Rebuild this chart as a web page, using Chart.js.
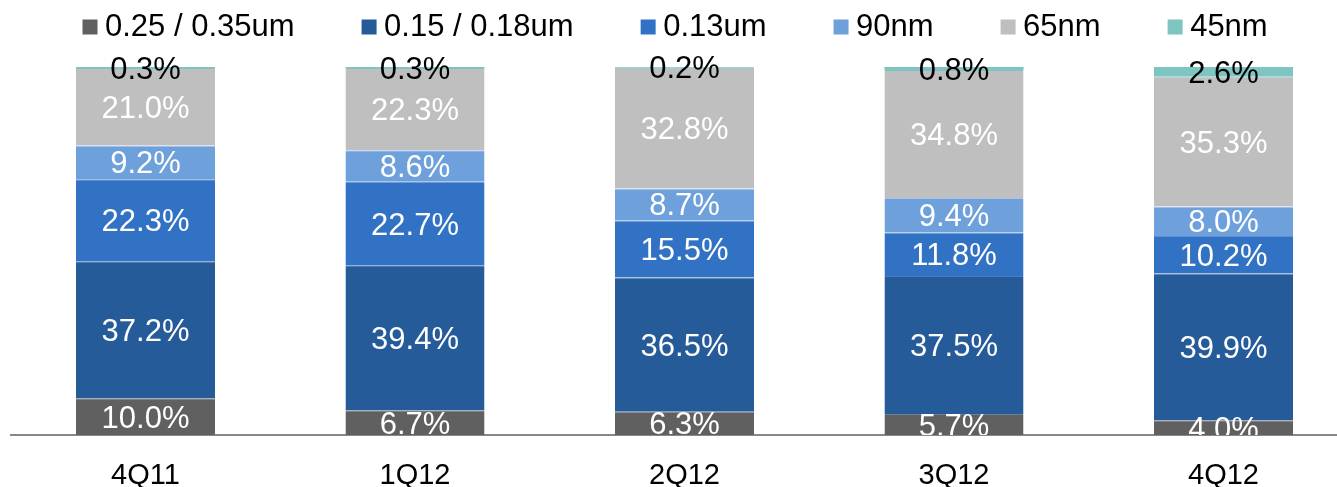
<!DOCTYPE html>
<html>
<head>
<meta charset="utf-8">
<script src="https://cdn.jsdelivr.net/npm/chart.js@4"></script>
<style>
  html, body { margin: 0; padding: 0; background: #ffffff; overflow: hidden; }
  #wrap { width: 1360px; height: 487px; position: relative; overflow: hidden; }
</style>
</head>
<body>
<div id="wrap"><canvas id="c" width="1360" height="518"></canvas></div>
<script>
const categories = ['4Q11', '1Q12', '2Q12', '3Q12', '4Q12'];
const seriesNames = ['0.25 / 0.35um', '0.15 / 0.18um', '0.13um', '90nm', '65nm', '45nm'];
const s025_035 = [10.0, 6.7, 6.3, 5.7, 4.0];
const s015_018 = [37.2, 39.4, 36.5, 37.5, 39.9];
const s013 = [22.3, 22.7, 15.5, 11.8, 10.2];
const s90 = [9.2, 8.6, 8.7, 9.4, 8.0];
const s65 = [21.0, 22.3, 32.8, 34.8, 35.3];
const s45 = [0.3, 0.3, 0.2, 0.8, 2.6];
const seriesValues = [s025_035, s015_018, s013, s90, s65, s45];
const colors = ['#606060', '#265B9A', '#3172C4', '#6EA0DB', '#BFBFBF', '#7EC4C1'];
const edgeColors = ['#6f7f99', '#4a7bbd', '#5d8fd2', '#a9c3e6', '#7EC4C1', '#7EC4C1'];
const labelColors = ['#ffffff', '#ffffff', '#ffffff', '#ffffff', '#ffffff', '#000000'];

const FONT = '"Liberation Sans", Arial, Helvetica, sans-serif';

const datasets = seriesNames.map((name, i) => ({
  label: name,
  data: seriesValues[i],
  backgroundColor: colors[i],
  borderColor: edgeColors[i],
  borderWidth: i === 5 ? 0 : {top: 1, left: 0, right: 0, bottom: 0},
  borderSkipped: false,
  categoryPercentage: 1.0,
  barPercentage: 0.516
}));

const customLegend = {
  id: 'customLegend',
  afterDraw(chart) {
    const ctx = chart.ctx;
    ctx.save();
    ctx.font = '31px ' + FONT;
    ctx.textBaseline = 'middle';
    ctx.textAlign = 'left';
    let x = 82.5;
    const cy = 27;
    seriesNames.forEach((name, i) => {
      ctx.fillStyle = colors[i];
      ctx.fillRect(x, cy - 7.5, 15, 15);
      const tx = x + 22.5;
      ctx.fillStyle = '#000000';
      ctx.fillText(name, tx, cy);
      x = tx + ctx.measureText(name).width + 67;
    });
    ctx.restore();
  }
};

const segLabels = {
  id: 'segLabels',
  afterDatasetsDraw(chart) {
    const ctx = chart.ctx;
    const area = chart.chartArea;
    ctx.save();
    ctx.beginPath();
    ctx.rect(0, 0, chart.width, area.bottom);
    ctx.clip();
    ctx.font = '31px ' + FONT;
    ctx.textAlign = 'center';
    ctx.textBaseline = 'middle';
    chart.data.datasets.forEach((ds, di) => {
      const meta = chart.getDatasetMeta(di);
      meta.data.forEach((bar, idx) => {
        const v = ds.data[idx];
        const top = Math.min(bar.y, bar.base);
        const bot = Math.max(bar.y, bar.base);
        const cy = (top + bot) / 2 + 2.5;
        ctx.fillStyle = labelColors[di];
        ctx.fillText(v.toFixed(1) + '%', bar.x, cy);
      });
    });
    ctx.restore();
  }
};

new Chart(document.getElementById('c'), {
  type: 'bar',
  data: { labels: categories, datasets: datasets },
  options: {
    responsive: false,
    animation: false,
    devicePixelRatio: 1,
    layout: { padding: { top: 67, left: 10.75, right: 1.75, bottom: 2 } },
    plugins: {
      legend: { display: false },
      tooltip: { enabled: false },
      title: { display: false }
    },
    scales: {
      x: {
        stacked: true,
        offset: true,
        grid: { display: false, drawTicks: false },
        border: { display: true, color: '#888888', width: 2 },
        ticks: {
          color: '#000000',
          font: { family: FONT, size: 29, lineHeight: 1.0 },
          padding: 26
        }
      },
      y: {
        stacked: true,
        display: false,
        min: 0,
        max: 100
      }
    }
  },
  plugins: [customLegend, segLabels]
});
</script>
</body>
</html>
